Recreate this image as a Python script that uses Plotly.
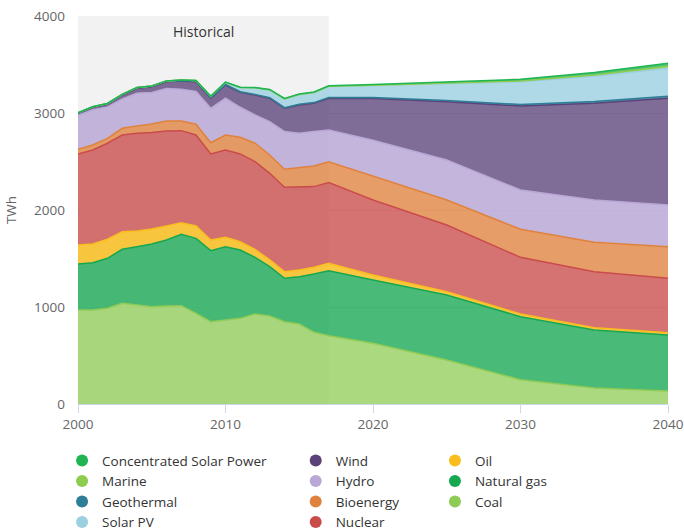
import plotly.graph_objects as go

# years: annual history, then projection milestones
years = list(range(2000, 2018)) + [2020, 2025, 2030, 2035, 2040]

# TWh by source (stack order bottom -> top)
coal = [969, 969, 987, 1038, 1021, 1003, 1010, 1014, 935, 849, 866, 883, 928, 907, 849, 825, 739, 704,
        626, 454, 250, 165, 135]
natural_gas = [474, 488, 515, 557, 601, 647, 681, 736, 773, 732, 756, 705, 584, 509, 447, 488, 601, 670,
               653, 670, 650, 598, 576]
oil = [196, 193, 196, 182, 162, 154, 144, 119, 127, 110, 96, 85, 83, 69, 68, 68, 69, 76,
       51, 34, 28, 24, 24]
nuclear = [939, 969, 990, 996, 1007, 994, 980, 949, 938, 887, 901, 905, 903, 893, 870, 853, 832, 832,
           773, 687, 584, 577, 561]
bioenergy = [48, 51, 51, 69, 75, 89, 103, 100, 111, 116, 154, 171, 190, 189, 186, 206, 213, 216,
             247, 258, 289, 303, 326]
hydro = [351, 364, 324, 304, 339, 324, 335, 327, 339, 355, 379, 310, 292, 344, 388, 351, 354, 327,
         370, 413, 405, 436, 430]
wind = [20, 25, 30, 40, 50, 60, 70, 85, 100, 103, 137, 154, 206, 241, 241, 292, 292, 327,
        430, 601, 866, 997, 1100]
geothermal = [5, 5, 5, 6, 6, 6, 6, 6, 6, 6, 6, 6, 6, 6, 6, 7, 7, 7,
              9, 12, 15, 18, 20]
solar_pv = [0, 0, 0, 0, 1, 1, 2, 4, 7, 14, 22, 45, 68, 80, 90, 100, 105, 115,
            125, 175, 235, 262, 290]
marine = [0, 0, 0, 0, 0, 0, 0, 0, 0, 0, 0, 0, 0, 0, 0, 0, 0, 1,
          2, 5, 8, 13, 20]
csp = [0, 0, 0, 0, 0, 0, 0, 0, 0, 0, 1, 2, 4, 5, 5, 5, 5, 5,
       8, 14, 17, 25, 30]

history_end = 2017

# name, values, legend colour, fill colour
series = [
    ("Coal", coal, "#8fcc55", "rgba(143,204,85,0.75)"),
    ("Natural gas", natural_gas, "#16a751", "rgba(22,167,81,0.78)"),
    ("Oil", oil, "#f9bd1f", "rgba(249,189,31,0.85)"),
    ("Nuclear", nuclear, "#c94c4b", "rgba(201,76,75,0.78)"),
    ("Bioenergy", bioenergy, "#e0823d", "rgba(224,130,61,0.78)"),
    ("Hydro", hydro, "#b9a8d5", "rgba(185,168,213,0.85)"),
    ("Wind", wind, "#5b437a", "rgba(91,67,122,0.78)"),
    ("Geothermal", geothermal, "#2d7e96", "rgba(45,126,150,0.8)"),
    ("Solar PV", solar_pv, "#9bd0e0", "rgba(155,208,224,0.8)"),
    ("Marine", marine, "#8ccc4f", "rgba(140,204,79,0.8)"),
    ("Concentrated Solar Power", csp, "#1fb553", "rgba(31,181,83,0.8)"),
]
colors = {name: col for name, _, col, _ in series}

legend_cols = {
    "legend": ["Concentrated Solar Power", "Marine", "Geothermal", "Solar PV"],
    "legend2": ["Wind", "Hydro", "Bioenergy", "Nuclear"],
    "legend3": ["Oil", "Natural gas", "Coal"],
}

fig = go.Figure()

for name, vals, col, fill in series:
    fig.add_trace(go.Scatter(
        x=years, y=vals, name=name, stackgroup="one", mode="lines",
        line=dict(color=col, width=1.5), fillcolor=fill, showlegend=False,
        hovertemplate="%{x}: %{y} TWh<extra>" + name + "</extra>"))

# round legend markers, one legend per column
for leg, names in legend_cols.items():
    for name in names:
        fig.add_trace(go.Scatter(
            x=[None], y=[None], mode="markers", name=name, legend=leg,
            marker=dict(size=16, color=colors[name])))

leg_font = dict(family="Open Sans", size=13.5, color="#333333")
leg_common = dict(orientation="v", yanchor="top", y=-0.106, xanchor="left",
                  font=leg_font, bgcolor="rgba(0,0,0,0)", itemsizing="constant",
                  tracegroupgap=0, traceorder="normal")

fig.update_layout(
    width=684, height=531,
    margin=dict(l=78, r=16, t=16, b=127, autoexpand=False),
    paper_bgcolor="white", plot_bgcolor="white",
    font=dict(family="Open Sans", size=13, color="#666666"),
    legend=dict(x=-0.027, **leg_common),
    legend2=dict(x=0.369, **leg_common),
    legend3=dict(x=0.605, **leg_common),
    xaxis=dict(range=[2000, 2040], tickvals=[2000, 2010, 2020, 2030, 2040],
               showgrid=False, showline=True, linecolor="#ccd6eb", linewidth=1,
               ticks="outside", ticklen=8, tickcolor="#ccd6eb",
               tickfont=dict(size=13.5, color="#666666"), zeroline=False),
    yaxis=dict(range=[0, 4000], tickvals=[0, 1000, 2000, 3000, 4000],
               showgrid=True, gridcolor="#e6e6e6", zeroline=False,
               ticklabelstandoff=12,
               title=dict(text="TWh", font=dict(size=13.5, color="#666666"), standoff=14),
               tickfont=dict(size=13.5, color="#666666")),
    shapes=[dict(type="rect", xref="x", yref="paper", x0=years[0], x1=history_end,
                 y0=0, y1=1, fillcolor="#f2f2f2", line=dict(width=0), layer="below")],
    annotations=[dict(text="Historical", xref="x", yref="paper",
                      x=(years[0] + history_end) / 2, y=0.99, yanchor="top",
                      showarrow=False, font=dict(family="Open Sans", size=14, color="#333333"))],
)

# drop the default 8px page margin so the figure fills the window
fig.write_html("out.html", config={"displayModeBar": False},
               post_script="document.body.style.margin='0';")
